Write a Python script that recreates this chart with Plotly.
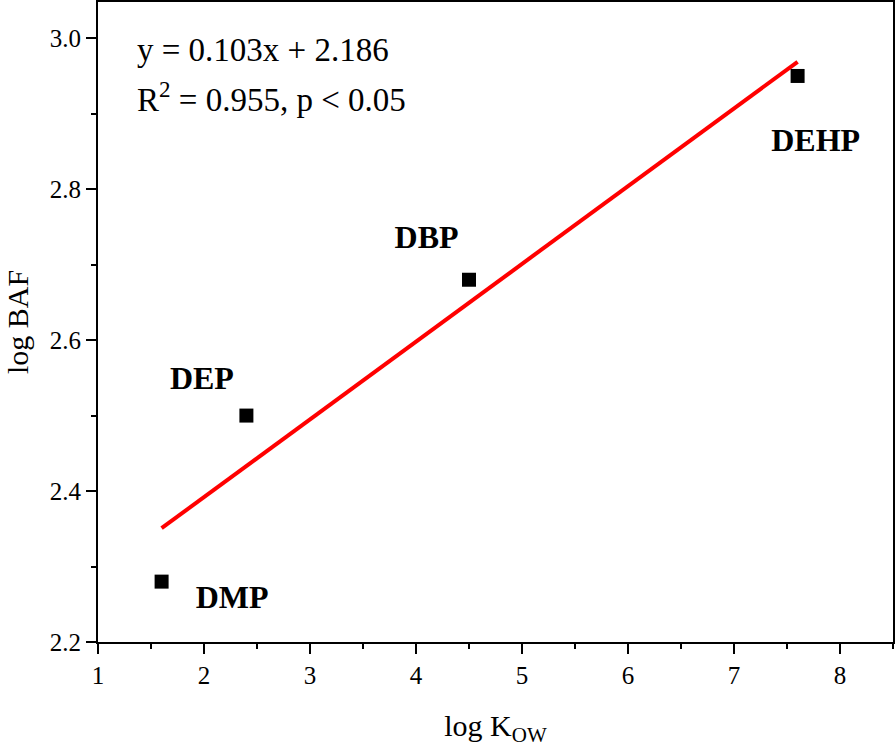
import plotly.graph_objects as go

names = ["DMP", "DEP", "DBP", "DEHP"]
log_kow = [1.6, 2.4, 4.5, 7.6]
log_baf = [2.28, 2.50, 2.68, 2.95]
slope = 0.103
intercept = 2.186
fit_x = [1.6, 7.6]
fit_y = [slope * x + intercept for x in fit_x]

# label positions (data coords)
label_x = [2.265, 1.98, 4.10, 7.77]
label_y = [2.256, 2.546, 2.733, 2.861]

font = "Liberation Serif, Times New Roman, serif"

fig = go.Figure()
fig.add_trace(go.Scatter(x=fit_x, y=fit_y, mode="lines",
                         line=dict(color="#ff0000", width=4), showlegend=False))
fig.add_trace(go.Scatter(x=log_kow, y=log_baf, mode="markers",
                         marker=dict(symbol="square", size=14, color="black"),
                         showlegend=False))
fig.add_trace(go.Scatter(x=label_x, y=label_y, mode="text", text=names,
                         textfont=dict(family=font, size=32, color="black", weight="bold"),
                         showlegend=False))

fig.add_annotation(x=0.047, y=0.925, xref="paper", yref="paper", xanchor="left", yanchor="middle",
                   showarrow=False, text=f"y = {slope}x + {intercept}",
                   font=dict(family=font, size=33, color="black"))
fig.add_annotation(x=0.047, y=0.852, xref="paper", yref="paper", xanchor="left", yanchor="middle",
                   showarrow=False, text="R<sup>2</sup> = 0.955, p < 0.05",
                   font=dict(family=font, size=33, color="black"))

fig.update_layout(
    width=896, height=747,
    margin=dict(l=98, r=3, t=2, b=105),
    plot_bgcolor="white", paper_bgcolor="white",
    font=dict(family=font, size=26, color="black"),
    xaxis=dict(range=[1, 8.5], dtick=1, tick0=1, showgrid=False, zeroline=False,
               automargin=False,
               showline=True, linecolor="black", linewidth=2, mirror=True,
               ticks="outside", ticklen=10, tickwidth=2, tickcolor="black",
               minor=dict(dtick=0.5, ticks="outside", ticklen=5, tickwidth=2, tickcolor="black"),
               tickfont=dict(size=25),
               title=dict(text="log K<sub>OW</sub>", font=dict(size=30), standoff=32)),
    yaxis=dict(range=[2.2, 3.048], dtick=0.2, tick0=2.2, tickformat=".1f", showgrid=False,
               automargin=False,
               zeroline=False, showline=True, linecolor="black", linewidth=2, mirror=True,
               ticks="outside", ticklen=10, tickwidth=2, tickcolor="black",
               minor=dict(dtick=0.1, ticks="outside", ticklen=5, tickwidth=2, tickcolor="black"),
               tickfont=dict(size=25),
               title=dict(text="log BAF", font=dict(size=30), standoff=12)),
)

fig.write_html("out.html", config={"displayModeBar": False},
               post_script="document.body.style.margin='0';document.body.style.overflow='hidden';")
